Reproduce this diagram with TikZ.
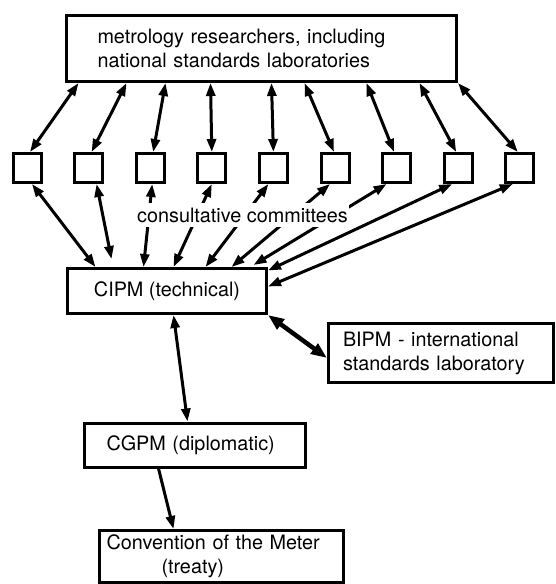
\documentclass[tikz,border=0pt]{standalone}
\usepackage{fontspec}
\setmainfont{TeX Gyre Heros}
\usetikzlibrary{arrows.meta,calc}
\begin{document}
\begin{tikzpicture}[x=1pt,y=-1pt,
  lbl/.style={font=\fontsize{19.8}{24}\selectfont},
  box/.style={draw, line width=3pt, inner sep=0pt, lbl},
  sq/.style={draw, line width=3pt, minimum width=28pt, minimum height=29pt, inner sep=0pt},
  link/.style={line width=3pt, {Triangle[length=13pt,width=9pt]}-{Triangle[length=13pt,width=9pt]}},
  onelink/.style={line width=3pt, -{Triangle[length=13pt,width=9pt]}},
  biglink/.style={line width=4.5pt, {Triangle[length=16pt,width=12pt]}-{Triangle[length=16pt,width=12pt]}}
]
\useasboundingbox (0,0) rectangle (556,584);

% boxes
\node[box, minimum width=390pt, minimum height=66pt, text width=328pt, inner xsep=31pt, align=left] (top) at (261.5,48.5)
  {metrology researchers, including\\national standards laboratories};
\node[box, minimum width=199pt, minimum height=45pt] (cipm) at (167,291) {CIPM (technical)};
\node[box, minimum width=225pt, minimum height=59pt, text width=196pt, inner xsep=14.5pt, align=left] (bipm) at (441,353)
  {BIPM - international\\standards laboratory};
\node[box, minimum width=221pt, minimum height=44pt, text width=177pt, inner xsep=22pt, align=left] (cgpm) at (195,445)
  {CGPM (diplomatic)};
\node[box, minimum width=244pt, minimum height=51.5pt, text width=230pt, inner xsep=7pt, align=left] (conv) at (221.5,556.25)
  {Convention of the Meter\\\hspace*{55pt}(treaty)};

% consultative committee squares
\foreach \i in {1,...,9} {
  \node[sq] (s\i) at ({27+61.6*(\i-1)},168) {};
}

% top arrows
\draw[link] ($(top.south west)+(13.5,0)$) -- ($(s1.north)+(3,0)$);
\draw[link] ($(top.south west)+(61.5,0)$) -- ($(s2.north)+(3,0)$);
\draw[link] ($(top.south west)+(100.5,0)$) -- ($(s3.north)+(3,0)$);
\draw[link] ($(top.south west)+(145.5,0)$) -- (s4.north);
\draw[link] ($(top.south west)+(206.5,0)$) -- (s5.north);
\draw[link] ($(top.south west)+(239.5,0)$) -- ($(s6.north)+(-1,0)$);
\draw[link] ($(top.south west)+(301.5,0)$) -- ($(s7.north)+(-2.5,0)$);
\draw[link] ($(top.south west)+(354.5,0)$) -- ($(s8.north)+(-2,0)$);
\draw[link] (top.south east) -- ($(s9.north)+(-2,0)$);

% lower arrows
\draw[link] ($(s1.south)+(5,0)$) -- ($(cipm.north west)+(29.5,0)$);
\draw[link] ($(s2.south)+(8,0)$) -- ($(cipm.north west)+(45.5,-8)$);
\draw[link] ($(s3.south)+(2,0)$) -- ($(cipm.north west)+(77.5,0)$);
\draw[link] (s4.south) -- ($(cipm.north west)+(107.5,0)$);
\draw[link] ($(s5.south)+(-5,0)$) -- ($(cipm.north west)+(139.5,0)$);
\draw[link] ($(s6.south)+(-5,0)$) -- ($(cipm.north west)+(165.5,0)$);
\draw[link] ($(s7.south)+(-10,0)$) -- ($(cipm.north west)+(187.5,-2)$);
\draw[link] ($(s8.south)+(-6,0)$) -- ($(cipm.north east)+(0,3.5)$);
\draw[link] ($(s9.south)+(-7,0)$) -- ($(cipm.north east)+(0,19.5)$);

\node[lbl, fill=white, inner xsep=1pt, inner ysep=5pt] (cc) at (242.5,215) {consultative committees};

% lower chain
\draw[link] ($(cipm.south west)+(107.5,0)$) -- ($(cgpm.north west)+(104.5,0)$);
\draw[onelink] ($(cgpm.south west)+(75.5,0)$) -- ($(conv.north west)+(75.5,0)$);
\draw[biglink] (cipm.south east) -- ($(bipm.north west)+(0,36)$);
\end{tikzpicture}
\end{document}
